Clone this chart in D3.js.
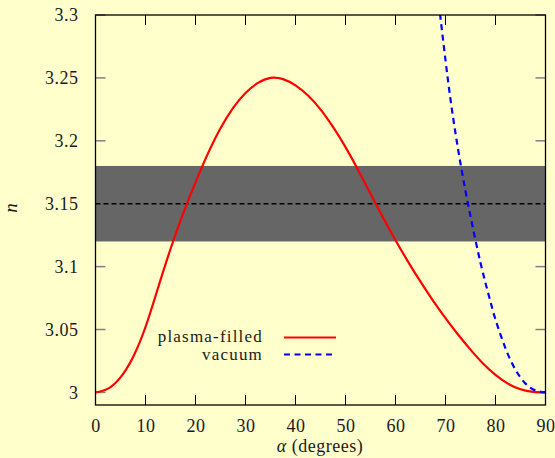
<!DOCTYPE html>
<html><head><meta charset="utf-8">
<script src="https://cdn.jsdelivr.net/npm/d3@7"></script>
<style>body{margin:0;background:#ffffcc;} text{font-family:"Liberation Serif",serif;fill:#1a1a1a;}</style>
</head><body>
<script>
// data
const plasmaAlpha = [0, 2.5, 5, 7.5, 10, 12.5, 15, 17.5, 20, 22.5, 25, 27.5, 30, 32.5, 35, 37.5, 40, 42.5, 45, 47.5, 50, 52.5, 55, 57.5, 60, 62.5, 65, 67.5, 70, 72.5, 75, 77.5, 80, 82.5, 85, 87.5, 90];
const plasmaN = [3.000, 3.003, 3.012, 3.028, 3.052, 3.083, 3.114, 3.142, 3.167, 3.190, 3.210, 3.226, 3.238, 3.246, 3.250, 3.249, 3.244, 3.236, 3.225, 3.211, 3.195, 3.177, 3.158, 3.139, 3.121, 3.104, 3.088, 3.073, 3.059, 3.046, 3.034, 3.023, 3.014, 3.007, 3.0025, 3.0004, 3.000];
const vacuumAlpha = [68.9, 70, 71, 72, 73, 74, 75, 76, 77, 78, 79, 80, 82, 84, 86, 88, 90];
const vacuumN = [3.301, 3.264, 3.233, 3.206, 3.182, 3.160, 3.140, 3.121, 3.103, 3.087, 3.072, 3.058, 3.035, 3.018, 3.007, 3.0016, 3.000];
const bandLow = 3.12, bandHigh = 3.18, targetN = 3.15;
const xTicks = [0, 10, 20, 30, 40, 50, 60, 70, 80, 90];
const yTicks = [3, 3.05, 3.1, 3.15, 3.2, 3.25, 3.3];
const yTickLabels = ["3", "3.05", "3.1", "3.15", "3.2", "3.25", "3.3"];
const seriesNames = ["plasma-filled", "vacuum"];

const W = 555, H = 458;
const L = 95.5, R = 545.5, T = 15, B = 405;
const FS = 18;
const svg = d3.select("body").append("svg").attr("width", W).attr("height", H);
svg.append("rect").attr("width", W).attr("height", H).attr("fill", "#ffffcc");

const x = d3.scaleLinear().domain([0, 90]).range([L, R]);
const y = d3.scaleLinear().domain([2.99, 3.3]).range([B, T]);

svg.append("defs").append("clipPath").attr("id", "clip")
  .append("rect").attr("x", L).attr("y", T).attr("width", R - L).attr("height", B - T);

// ticks (under the band)
const tickG = svg.append("g");
xTicks.slice(1, -1).forEach(v => {
  tickG.append("line").attr("x1", x(v)).attr("x2", x(v)).attr("y1", B).attr("y2", B - 10).attr("stroke", "#000");
  tickG.append("line").attr("x1", x(v)).attr("x2", x(v)).attr("y1", T).attr("y2", T + 10).attr("stroke", "#000");
});
yTicks.forEach(v => {
  tickG.append("line").attr("x1", L).attr("x2", L + 10).attr("y1", y(v)).attr("y2", y(v)).attr("stroke", "#808080").attr("stroke-width", 1.5);
  tickG.append("line").attr("x1", R).attr("x2", R - 10).attr("y1", y(v)).attr("y2", y(v)).attr("stroke", "#808080").attr("stroke-width", 1.5);
});

// band
svg.append("rect").attr("x", L).attr("width", R - L)
  .attr("y", y(bandHigh)).attr("height", y(bandLow) - y(bandHigh)).attr("fill", "#666666");
svg.append("line").attr("x1", L).attr("x2", R).attr("y1", y(targetN)).attr("y2", y(targetN))
  .attr("stroke", "#000").attr("stroke-width", 1.6).attr("stroke-dasharray", "5,3");

// axes with labels
const xAxis = d3.axisBottom(x).tickValues(xTicks).tickSize(0).tickPadding(14);
const gx = svg.append("g").attr("transform", `translate(0,${B})`).call(xAxis);
gx.select(".domain").remove();
gx.selectAll("text").attr("font-size", FS).attr("font-family", "Liberation Serif").attr("fill", "#1a1a1a").attr("letter-spacing", 0.5);
const yAxis = d3.axisLeft(y).tickValues(yTicks).tickFormat((d, i) => yTickLabels[i]).tickSize(0).tickPadding(17);
const gy = svg.append("g").attr("transform", `translate(${L},0)`).call(yAxis);
gy.select(".domain").remove();
gy.selectAll("text").attr("font-size", FS).attr("font-family", "Liberation Serif").attr("fill", "#1a1a1a").attr("letter-spacing", 0.5);

// curves
const line = d3.line().x(d => x(d[0])).y(d => y(d[1])).curve(d3.curveNatural);
const plot = svg.append("g").attr("clip-path", "url(#clip)");
plot.append("path").datum(plasmaAlpha.map((a, i) => [a, plasmaN[i]]))
  .attr("d", line).attr("fill", "none").attr("stroke", "#ff0000").attr("stroke-width", 2.2);
plot.append("path").datum(vacuumAlpha.map((a, i) => [a, vacuumN[i]]))
  .attr("d", line).attr("fill", "none").attr("stroke", "#0000ff").attr("stroke-width", 2.2).attr("stroke-dasharray", "6,4.5");

// border
svg.append("rect").attr("x", L).attr("y", T).attr("width", R - L).attr("height", B - T)
  .attr("fill", "none").attr("stroke", "#000").attr("stroke-width", 1.3);

// legend
const leg = [{name: seriesNames[0], color: "#ff0000", dash: null, yy: 337.5, ty: 342},
             {name: seriesNames[1], color: "#0000ff", dash: "6,4.5", yy: 354.5, ty: 360}];
leg.forEach(d => {
  svg.append("text").attr("x", 263).attr("y", d.ty).attr("text-anchor", "end").attr("font-size", 17)
    .attr("letter-spacing", 1.2).text(d.name);
  svg.append("line").attr("x1", 284).attr("x2", 336).attr("y1", d.yy).attr("y2", d.yy)
    .attr("stroke", d.color).attr("stroke-width", 2.2).attr("stroke-dasharray", d.dash);
});

// axis titles
svg.append("text").attr("x", 320).attr("y", 452).attr("text-anchor", "middle").attr("font-size", FS)
  .attr("letter-spacing", 0.5)
  .html('<tspan font-style="italic">α</tspan> (degrees)');
svg.append("text").attr("transform", "translate(17,208) rotate(-90)").attr("text-anchor", "middle")
  .attr("font-size", FS + 1).attr("font-style", "italic").text("n");
</script>
</body></html>
